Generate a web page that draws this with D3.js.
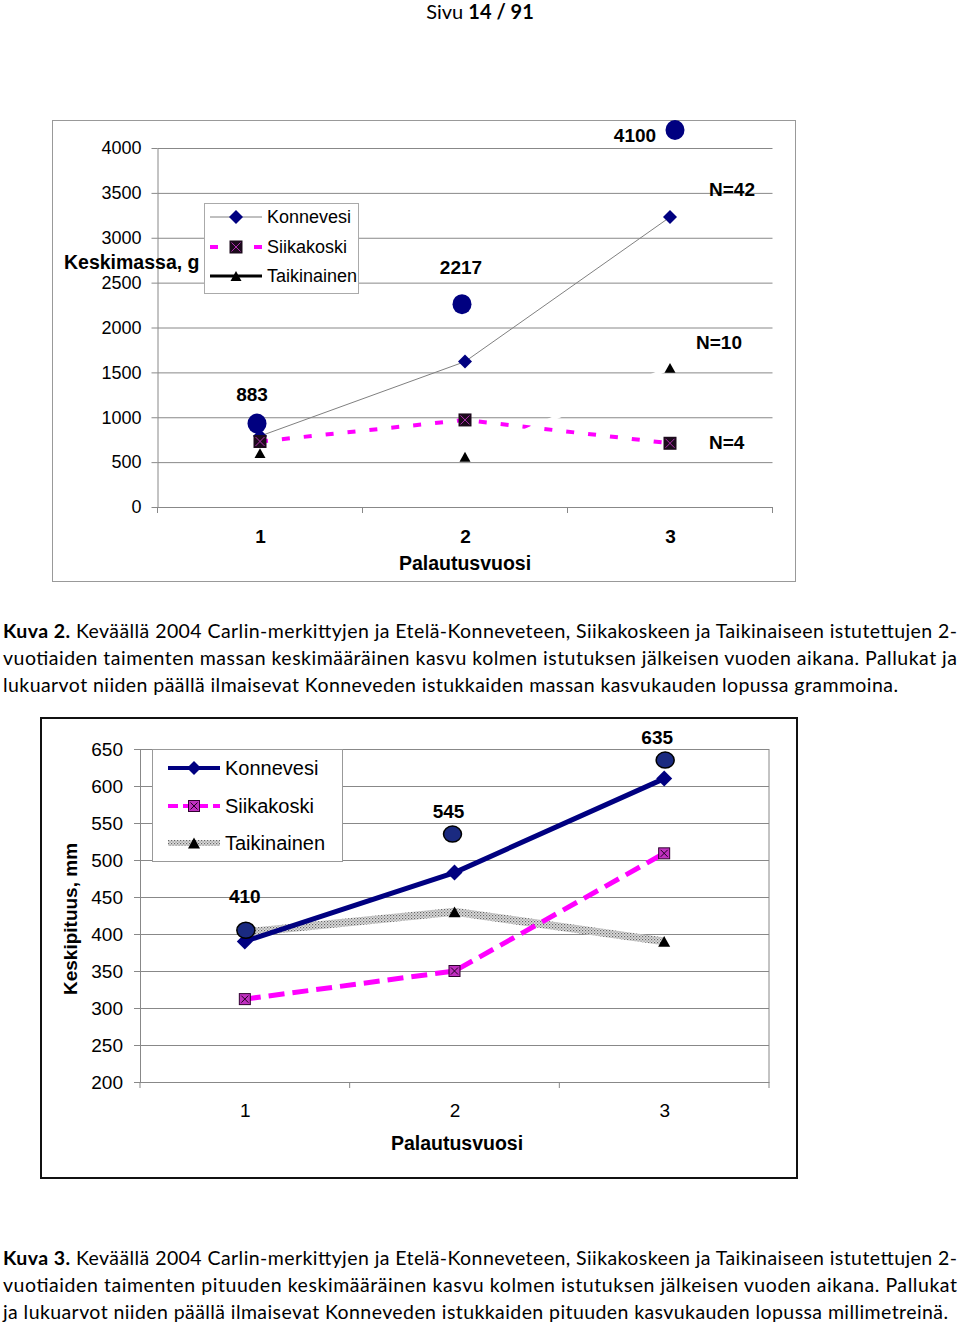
<!DOCTYPE html>
<html>
<head>
<meta charset="utf-8">
<script src="https://cdn.jsdelivr.net/npm/d3@7"></script>
<style>
  body { margin: 0; background: #fff; }
  svg { display: block; }
  .chart text { font-family: 'Liberation Sans', Arial, sans-serif; fill: #000; }
  .cap { font-family: Lato, 'Open Sans', sans-serif; font-size: 19.5px; fill: #000; }
</style>
</head>
<body>
<div id="app"></div>
<script>
// ---- data ----
let years = [1, 2, 3]
let seriesNames = ['Konnevesi', 'Siikakoski', 'Taikinainen']

// Kuva 2: keskimassa, g
let massTicks = [0, 500, 1000, 1500, 2000, 2500, 3000, 3500, 4000]
let massKonnevesi = [790, 1620, 3230]
let massSiikakoski = [730, 970, 710]
let massTaikinainen = [600, 560, 1550]
let massDots = [930, 2260, 4200]
let massDotLabels = ['883', '2217', '4100']
let massDotLabelAt = [1260, 2675, 4145]
let massN = ['N=42', 'N=10', 'N=4']
let massNAt = [3540, 1838, 724]

// Kuva 3: keskipituus, mm
let lenTicks = [200, 250, 300, 350, 400, 450, 500, 550, 600, 650]
let lenKonnevesi = [390, 483, 610]
let lenSiikakoski = [312, 350, 509]
let lenTaikinainen = [402, 430, 390]
let lenDots = [405, 535, 635]
let lenDotLabels = ['410', '545', '635']
let lenDotLabelAt = [451, 566, 666]

const svg = d3.select('#app').append('svg')
  .attr('width', 960).attr('height', 1326)

const defs = svg.append('defs')
let pat = defs.append('pattern').attr('id', 'hatch')
  .attr('patternUnits', 'userSpaceOnUse').attr('width', 3).attr('height', 3)
pat.append('rect').attr('width', 3).attr('height', 3).attr('fill', '#dcdcdc')
pat.append('rect').attr('x', 0).attr('y', 0).attr('width', 1.2).attr('height', 1.2).attr('fill', '#666')
pat.append('rect').attr('x', 1.5).attr('y', 1.5).attr('width', 1.2).attr('height', 1.2).attr('fill', '#888')

// ---- page header ----
let hdr = svg.append('text').attr('class', 'cap')
  .attr('x', 480).attr('y', 19).attr('text-anchor', 'middle').style('font-size', '20px')
hdr.append('tspan').text('Sivu ')
hdr.append('tspan').attr('font-weight', 'bold').text('14 / 91')

// ---- marker helpers ----
let diamond = (g, x, y, r, fill) => {
  g.append('path').attr('d', `M${x},${y - r}L${x + r},${y}L${x},${y + r}L${x - r},${y}Z`).attr('fill', fill)
}
let triangle = (g, x, y, w, fill) => {
  let h = w * 0.9
  g.append('path').attr('d', `M${x},${y - h / 2}L${x + w / 2},${y + h / 2}L${x - w / 2},${y + h / 2}Z`).attr('fill', fill)
}
let squareX = (g, x, y, s, fill, stroke, xColor) => {
  g.append('rect').attr('x', x - s / 2).attr('y', y - s / 2).attr('width', s).attr('height', s)
    .attr('fill', fill).attr('stroke', stroke).attr('stroke-width', stroke === 'none' ? 0 : 1)
  g.append('path').attr('d', `M${x - s / 2 + 2},${y - s / 2 + 2}L${x + s / 2 - 2},${y + s / 2 - 2}M${x + s / 2 - 2},${y - s / 2 + 2}L${x - s / 2 + 2},${y + s / 2 - 2}`)
    .attr('stroke', xColor).attr('stroke-width', 1)
}

let drawFrame = (g, x, band, yScale, ticks, opts) => {
  let [x0, x1] = x.range()
  // gridlines
  g.append('g').attr('transform', `translate(${x0},0)`)
    .call(d3.axisLeft(yScale).tickValues(ticks).tickSize(-(x1 - x0)).tickFormat(''))
    .call(a => a.select('.domain').remove())
    .selectAll('line').attr('stroke', '#888').attr('stroke-width', 1)
  // y axis
  g.append('g').attr('transform', `translate(${x0},0)`)
    .call(d3.axisLeft(yScale).tickValues(ticks).tickFormat(d3.format('d'))
      .tickSize(6).tickPadding(opts.yPad).tickSizeOuter(0))
    .call(a => a.select('.domain').attr('stroke', '#888'))
    .call(a => a.selectAll('line').attr('stroke', '#888'))
    .call(a => a.selectAll('text').style('font-size', opts.yFont + 'px').attr('font-family', null))
  // x axis
  let y0 = yScale.range()[0]
  let xa = g.append('g').attr('transform', `translate(0,${y0})`)
    .call(d3.axisBottom(x).tickSize(0).tickPadding(opts.xPad).tickSizeOuter(0))
  xa.select('.domain').attr('stroke', '#888')
  xa.selectAll('text').style('font-size', opts.xFont + 'px').attr('font-weight', opts.xBold ? 'bold' : null).attr('font-family', null)
  let bounds = d3.range(years.length + 1).map(i => band.range()[0] + i * band.step())
  g.selectAll('.xtick').data(bounds).enter().append('line')
    .attr('x1', d => d).attr('x2', d => d).attr('y1', y0).attr('y2', y0 + 6).attr('stroke', '#888')
}

// ================= Kuva 2 =================
{
  let g = svg.append('g').attr('class', 'chart')
  g.append('rect').attr('x', 52.5).attr('y', 120.5).attr('width', 743).attr('height', 461)
    .attr('fill', '#fff').attr('stroke', '#999')
  let band = d3.scaleBand().domain(years).range([157.5, 772.5])
  let x = d3.scalePoint().domain(years).range([157.5, 772.5]).padding(0.5)
  let y = d3.scaleLinear().domain([0, 4000]).range([507, 148])
  drawFrame(g, x, band, y, massTicks, { yPad: 10, yFont: 18, xPad: 23, xFont: 19, xBold: true })

  g.append('text').attr('x', 465).attr('y', 570).attr('text-anchor', 'middle')
    .attr('font-weight', 'bold').style('font-size', '19.5px').text('Palautusvuosi')
  g.append('text').attr('x', 64).attr('y', 269)
    .attr('font-weight', 'bold').style('font-size', '19.5px').text('Keskimassa, g')

  let line = d3.line().x((d, i) => x(years[i])).y(d => y(d))
  g.append('path').attr('d', line(massKonnevesi)).attr('fill', 'none').attr('stroke', '#808080').attr('stroke-width', 1)
  massKonnevesi.forEach((d, i) => diamond(g, x(years[i]), y(d), 7, '#000080'))
  g.append('path').attr('d', line(massSiikakoski)).attr('fill', 'none').attr('stroke', '#ff00ff')
    .attr('stroke-width', 4).attr('stroke-dasharray', '8,14')
  massSiikakoski.forEach((d, i) => squareX(g, x(years[i]), y(d), 13, '#1c0a1c', 'none', '#b030b0'))
  g.append('path').attr('d', line(massTaikinainen)).attr('fill', 'none').attr('stroke', '#fff').attr('stroke-width', 4)
  massTaikinainen.forEach((d, i) => triangle(g, x(years[i]), y(d), 11, '#000'))

  let dx = [-3, -3, 5]
  massDots.forEach((d, i) => g.append('ellipse').attr('cx', x(years[i]) + dx[i]).attr('cy', y(d))
    .attr('rx', 9.5).attr('ry', 10).attr('fill', '#000080'))
  let lx = [-8, -4, -35]
  massDotLabels.forEach((t, i) => g.append('text').attr('x', x(years[i]) + lx[i]).attr('y', y(massDotLabelAt[i]))
    .attr('dy', '0.35em').attr('text-anchor', 'middle').attr('font-weight', 'bold').style('font-size', '19px').text(t))
  let nx = [39, 26, 39]
  massN.forEach((t, i) => g.append('text').attr('x', x(3) + nx[i]).attr('y', y(massNAt[i]))
    .attr('dy', '0.35em').attr('font-weight', 'bold').style('font-size', '19px').text(t))

  // legend
  let lg = g.append('g')
  lg.append('rect').attr('x', 204.5).attr('y', 203.5).attr('width', 154).attr('height', 90)
    .attr('fill', '#fff').attr('stroke', '#aaa')
  let ly = [217, 247, 276]
  lg.append('line').attr('x1', 210).attr('x2', 262).attr('y1', ly[0]).attr('y2', ly[0]).attr('stroke', '#808080')
  diamond(lg, 236, ly[0], 7, '#000080')
  lg.append('line').attr('x1', 210).attr('x2', 262).attr('y1', ly[1]).attr('y2', ly[1])
    .attr('stroke', '#ff00ff').attr('stroke-width', 4).attr('stroke-dasharray', '8,14')
  squareX(lg, 236, ly[1], 13, '#1c0a1c', 'none', '#b030b0')
  lg.append('line').attr('x1', 210).attr('x2', 262).attr('y1', ly[2]).attr('y2', ly[2]).attr('stroke', '#000').attr('stroke-width', 3)
  triangle(lg, 236, ly[2], 11, '#000')
  seriesNames.forEach((n, i) => lg.append('text').attr('x', 267).attr('y', ly[i]).attr('dy', '0.35em')
    .style('font-size', '18px').text(n))
}

// ================= Kuva 3 =================
{
  let g = svg.append('g').attr('class', 'chart')
  g.append('rect').attr('x', 41).attr('y', 718).attr('width', 756).attr('height', 460)
    .attr('fill', '#fff').attr('stroke', '#111').attr('stroke-width', 2)
  let band = d3.scaleBand().domain(years).range([140, 769])
  let x = d3.scalePoint().domain(years).range([140, 769]).padding(0.5)
  let y = d3.scaleLinear().domain([200, 650]).range([1082, 749])
  drawFrame(g, x, band, y, lenTicks, { yPad: 11, yFont: 19, xPad: 22, xFont: 19, xBold: false })
  g.append('line').attr('x1', 769).attr('x2', 769).attr('y1', 749).attr('y2', 1082).attr('stroke', '#888')

  g.append('text').attr('x', 457).attr('y', 1150).attr('text-anchor', 'middle')
    .attr('font-weight', 'bold').style('font-size', '19.5px').text('Palautusvuosi')
  g.append('text').attr('transform', 'translate(77,919) rotate(-90)').attr('text-anchor', 'middle')
    .attr('font-weight', 'bold').style('font-size', '19px').text('Keskipituus, mm')

  let line = d3.line().x((d, i) => x(years[i])).y(d => y(d))
  g.append('path').attr('d', line(lenTaikinainen)).attr('fill', 'none').attr('stroke', 'url(#hatch)').attr('stroke-width', 8)
  g.append('path').attr('d', line(lenSiikakoski)).attr('fill', 'none').attr('stroke', '#ff00ff')
    .attr('stroke-width', 5).attr('stroke-dasharray', '16,8')
  g.append('path').attr('d', line(lenKonnevesi)).attr('fill', 'none').attr('stroke', '#000080').attr('stroke-width', 5)
  lenTaikinainen.forEach((d, i) => { if (i > 0) triangle(g, x(years[i]), y(d), 12, '#000') })
  lenSiikakoski.forEach((d, i) => squareX(g, x(years[i]), y(d), 11, '#c030c0', '#300030', '#200020'))
  lenKonnevesi.forEach((d, i) => diamond(g, x(years[i]), y(d), 8, '#000080'))

  let dx = [1, -2, 1]
  lenDots.forEach((d, i) => g.append('ellipse').attr('cx', x(years[i]) + dx[i]).attr('cy', y(d))
    .attr('rx', 9).attr('ry', 8).attr('fill', '#1a2a80').attr('stroke', '#000').attr('stroke-width', 1.5))
  let lx = [0, -6, -7]
  lenDotLabels.forEach((t, i) => g.append('text').attr('x', x(years[i]) + lx[i]).attr('y', y(lenDotLabelAt[i]))
    .attr('dy', '0.35em').attr('text-anchor', 'middle').attr('font-weight', 'bold').style('font-size', '19px').text(t))

  let lg = g.append('g')
  lg.append('rect').attr('x', 152.5).attr('y', 749.5).attr('width', 190).attr('height', 112)
    .attr('fill', '#fff').attr('stroke', '#999')
  let ly = [768, 806, 843]
  lg.append('line').attr('x1', 168).attr('x2', 220).attr('y1', ly[0]).attr('y2', ly[0]).attr('stroke', '#000080').attr('stroke-width', 4)
  diamond(lg, 194, ly[0], 7, '#000080')
  lg.append('line').attr('x1', 168).attr('x2', 220).attr('y1', ly[1]).attr('y2', ly[1])
    .attr('stroke', '#ff00ff').attr('stroke-width', 4).attr('stroke-dasharray', '10,5')
  squareX(lg, 194, ly[1], 11, '#c030c0', '#300030', '#200020')
  lg.append('line').attr('x1', 168).attr('x2', 220).attr('y1', ly[2]).attr('y2', ly[2]).attr('stroke', 'url(#hatch)').attr('stroke-width', 6)
  triangle(lg, 194, ly[2], 12, '#000')
  seriesNames.forEach((n, i) => lg.append('text').attr('x', 225).attr('y', ly[i]).attr('dy', '0.35em')
    .style('font-size', '20px').text(n))
}

// ---- captions ----
let caption = (top, bold, lines, ends) => {
  lines.forEach((ln, i) => {
    let t = svg.append('text').attr('class', 'cap').attr('x', 3).attr('y', top + i * 27)
      .attr('textLength', ends[i] - 3).attr('lengthAdjust', 'spacing')
    if (i === 0) {
      t.append('tspan').attr('font-weight', 'bold').text(bold)
    }
    t.append('tspan').text(ln)
  })
}
caption(638, 'Kuva 2.', [
  ' Keväällä 2004 Carlin-merkittyjen ja Etelä-Konneveteen, Siikakoskeen ja Taikinaiseen istutettujen 2-',
  'vuotiaiden taimenten massan keskimääräinen kasvu kolmen istutuksen jälkeisen vuoden aikana. Pallukat ja',
  'lukuarvot niiden päällä ilmaisevat Konneveden istukkaiden massan kasvukauden lopussa grammoina.'
], [957, 957, 898])
caption(1265, 'Kuva 3.', [
  ' Keväällä 2004 Carlin-merkittyjen ja Etelä-Konneveteen, Siikakoskeen ja Taikinaiseen istutettujen 2-',
  'vuotiaiden taimenten pituuden keskimääräinen kasvu kolmen istutuksen jälkeisen vuoden aikana. Pallukat',
  'ja lukuarvot niiden päällä ilmaisevat Konneveden istukkaiden pituuden kasvukauden lopussa millimetreinä.'
], [957, 957, 948])
</script>
</body>
</html>
